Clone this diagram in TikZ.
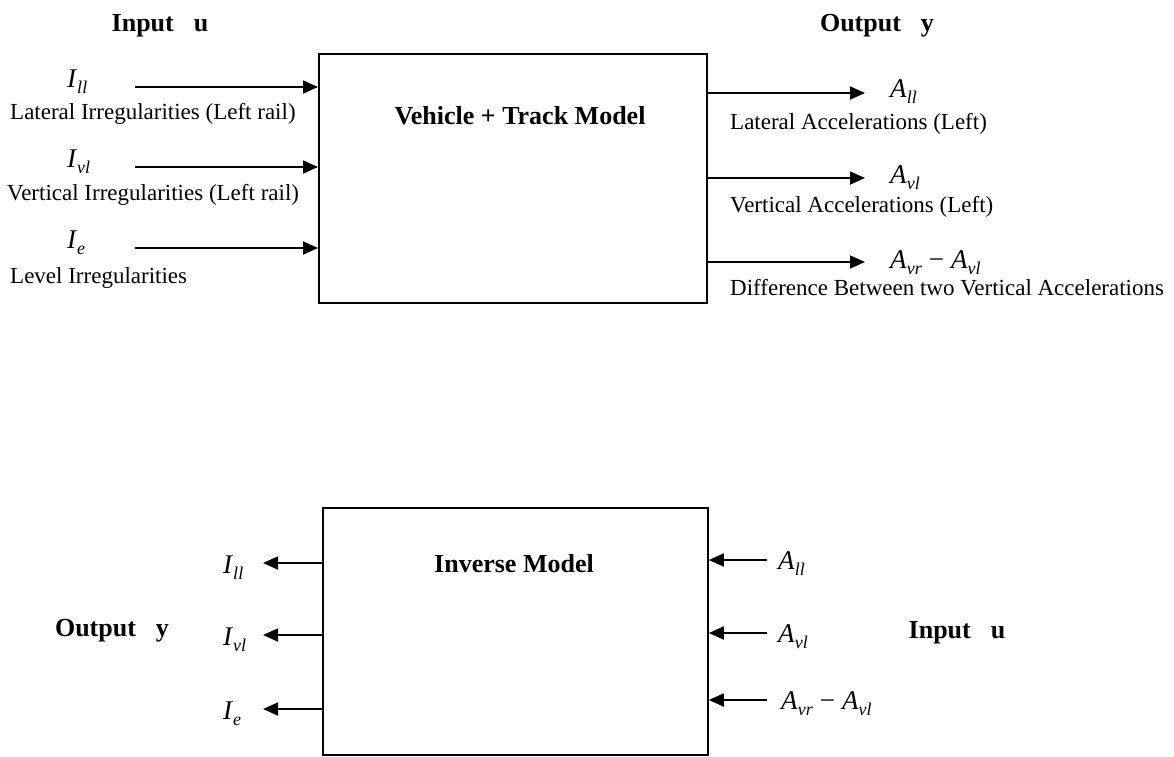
\documentclass[tikz,border=0pt]{standalone}
\usepackage{fontspec}
\setmainfont{Liberation Serif}
\usetikzlibrary{arrows.meta}
\newcommand\symb[2]{{\fontsize{27}{30}\selectfont\textit{#1}}\raisebox{-6pt}{\fontsize{18}{20}\selectfont\textit{#2}}}
\newcommand\mminus{\hspace{7pt}{\fontsize{27}{30}\selectfont −}\hspace{7pt}}
\begin{document}
\begin{tikzpicture}[x=1pt,y=-1pt,
  desc/.style={font=\fontsize{23}{27}\selectfont, inner sep=0pt, anchor=base west},
  ttl/.style={font=\fontsize{26}{30}\selectfont\bfseries, inner sep=0pt, anchor=base},
  lab/.style={inner sep=0pt, anchor=base west},
  blk/.style={draw, line width=1.8pt, anchor=north west, inner sep=0pt},
  arr/.style={line width=1.8pt, -{Triangle[length=15pt,width=13pt]}}]
\useasboundingbox (0,0) rectangle (1174,756);

% ---------- forward model ----------
\node[blk, minimum width=388pt, minimum height=249pt] (fwd) at (318,53) {};
\node[ttl] (fwdname) at (520,124) {Vehicle + Track Model};
\node[ttl] (tinu) at (160,31) {Input\hspace{20pt}u};
\node[ttl] (touty) at (877,31) {Output\hspace{20pt}y};

% inputs
\coordinate (in1) at (135,87);
\coordinate (in2) at (135,167);
\coordinate (in3) at (135,248);
\node[lab] (ill) at (67,87) {\symb{I}{ll}};
\node[lab] (ivl) at (67,167) {\symb{I}{vl}};
\node[lab] (ie) at (67,248) {\symb{I}{e}};
\node[desc] (dll) at (10,119) {Lateral Irregularities (Left rail)};
\node[desc] (dvl) at (7,200) {Vertical Irregularities (Left rail)};
\node[desc] (de) at (10,283) {Level Irregularities};
\draw[arr] (in1) -- (in1 -| fwd.west);
\draw[arr] (in2) -- (in2 -| fwd.west);
\draw[arr] (in3) -- (in3 -| fwd.west);

% outputs
\coordinate (out1) at (865,93);
\coordinate (out2) at (865,178);
\coordinate (out3) at (865,262);
\node[lab] (all) at (890,97) {\symb{A}{ll}};
\node[lab] (avl) at (890,183) {\symb{A}{vl}};
\node[lab] (adiff) at (890,268) {\symb{A}{vr}\mminus\symb{A}{vl}};
\node[desc] (dall) at (730,129) {Lateral Accelerations (Left)};
\node[desc] (davl) at (730,212) {Vertical Accelerations (Left)};
\node[desc] (dadiff) at (730,295) {Difference Between two Vertical Accelerations};
\draw[arr] (out1 -| fwd.east) -- (out1);
\draw[arr] (out2 -| fwd.east) -- (out2);
\draw[arr] (out3 -| fwd.east) -- (out3);

% ---------- inverse model ----------
\node[blk, minimum width=385pt, minimum height=247pt] (inv) at (322,507) {};
\node[ttl] (invname) at (514,572) {Inverse Model};
\node[ttl] (bouty) at (112,636) {Output\hspace{20pt}y};
\node[ttl] (binu) at (957,638) {Input\hspace{20pt}u};

\coordinate (bo1) at (263,563);
\coordinate (bo2) at (263,635);
\coordinate (bo3) at (263,709);
\node[lab] (bill) at (223,573) {\symb{I}{ll}};
\node[lab] (bivl) at (223,645) {\symb{I}{vl}};
\node[lab] (bie) at (223,719) {\symb{I}{e}};
\draw[arr] (bo1 -| inv.west) -- (bo1);
\draw[arr] (bo2 -| inv.west) -- (bo2);
\draw[arr] (bo3 -| inv.west) -- (bo3);

\coordinate (bi1) at (767,560);
\coordinate (bi2) at (767,633);
\coordinate (bi3) at (767,700);
\node[lab] (ball) at (778,569) {\symb{A}{ll}};
\node[lab] (bavl) at (778,642) {\symb{A}{vl}};
\node[lab] (badiff) at (781,709) {\symb{A}{vr}\mminus\symb{A}{vl}};
\draw[arr] (bi1) -- (bi1 -| inv.east);
\draw[arr] (bi2) -- (bi2 -| inv.east);
\draw[arr] (bi3) -- (bi3 -| inv.east);
\end{tikzpicture}
\end{document}
